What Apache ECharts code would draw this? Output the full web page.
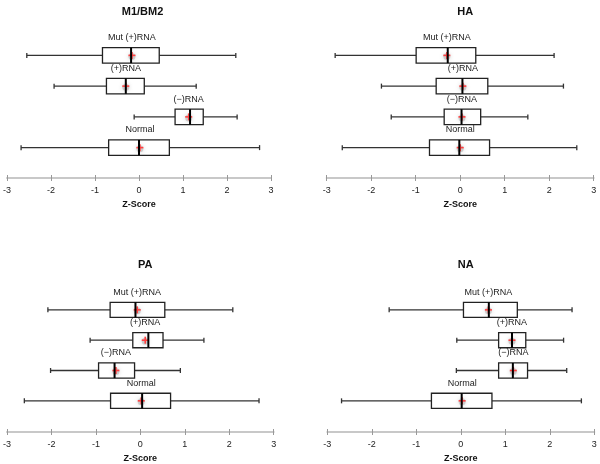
<!DOCTYPE html>
<html><head><meta charset="utf-8">
<script src="https://cdn.jsdelivr.net/npm/echarts@6/dist/echarts.min.js"></script>
<style>html,body{margin:0;padding:0;background:#fff}#c{width:600px;height:464px}</style>
</head><body><div id="c"></div>
<script>
const categories = ['Mut (+)RNA', '(+)RNA', '(\u2212)RNA', 'Normal'];
const panelTitles = ['M1/BM2', 'HA', 'PA', 'NA'];
const axisName = 'Z-Score';
const xMin = -3, xMax = 3, xStep = 1;

// each row: [lower whisker, Q1, median, Q3, upper whisker]
const m1Stats = [
  [-2.55, -0.83, -0.18, 0.46, 2.20],
  [-1.93, -0.74, -0.30, 0.12, 1.30],
  [-0.11, 0.82, 1.16, 1.46, 2.23],
  [-2.68, -0.69, 0.00, 0.69, 2.74]
];
const m1Means = [-0.16, -0.30, 1.13, 0.02];

const haStats = [
  [-2.81, -0.99, -0.28, 0.35, 2.11],
  [-1.77, -0.54, 0.05, 0.62, 2.32],
  [-1.55, -0.36, 0.03, 0.46, 1.52],
  [-2.65, -0.69, -0.02, 0.66, 2.62]
];
const haMeans = [-0.30, 0.06, 0.04, 0.00];

const paStats = [
  [-2.08, -0.68, -0.11, 0.55, 2.08],
  [-1.13, -0.17, 0.18, 0.51, 1.43],
  [-2.02, -0.94, -0.58, -0.13, 0.90],
  [-2.61, -0.67, 0.04, 0.68, 2.67]
];
const paMeans = [-0.07, 0.11, -0.55, 0.02];

const naStats = [
  [-1.61, 0.06, 0.63, 1.27, 2.50],
  [-0.09, 0.85, 1.15, 1.46, 2.31],
  [-0.10, 0.85, 1.17, 1.50, 2.38],
  [-2.68, -0.66, 0.02, 0.70, 2.71]
];
const naMeans = [0.62, 1.15, 1.18, 0.03];

const allStats = [m1Stats, haStats, paStats, naStats];
const allMeans = [m1Means, haMeans, paMeans, naMeans];

const FONT = '"Liberation Sans", Arial, Helvetica, sans-serif';
const layout = [
  { left: 4, top: 40, off: 15, ty: 1 },
  { left: 326.7, top: 40, off: 15, ty: 1 },
  { left: 6.7, top: 294.7, off: 16, ty: 254 },
  { left: 327.3, top: 294.7, off: 16, ty: 254 }
];
const W = 267, H = 123;

function renderBox(params, api) {
  const cat = api.value(0);
  const lo = api.value(1), q1 = api.value(2), med = api.value(3), q3 = api.value(4), hi = api.value(5), mean = api.value(6);
  const pLo = api.coord([lo, cat]), pQ1 = api.coord([q1, cat]), pMed = api.coord([med, cat]);
  const pQ3 = api.coord([q3, cat]), pHi = api.coord([hi, cat]), pMean = api.coord([mean, cat]);
  const band = api.size([0, 1])[1];
  const h = band * 0.5;
  const yc = pLo[1];
  const capH = 2.5;
  const wl = { stroke: '#333', lineWidth: 1.3 };
  return {
    type: 'group',
    children: [
      { type: 'line', shape: { x1: pLo[0], y1: yc, x2: pQ1[0], y2: yc }, style: wl },
      { type: 'line', shape: { x1: pQ3[0], y1: yc, x2: pHi[0], y2: yc }, style: wl },
      { type: 'line', shape: { x1: pLo[0], y1: yc - capH, x2: pLo[0], y2: yc + capH }, style: wl },
      { type: 'line', shape: { x1: pHi[0], y1: yc - capH, x2: pHi[0], y2: yc + capH }, style: wl },
      { type: 'rect', shape: { x: pQ1[0], y: yc - h / 2, width: pQ3[0] - pQ1[0], height: h },
        style: { fill: '#fff', stroke: '#222', lineWidth: 1.3 } },
      { type: 'circle', shape: { cx: pMean[0], cy: yc + 1, r: 3.5 },
        style: { fill: 'rgba(140,140,140,0.35)', shadowBlur: 4, shadowColor: 'rgba(110,110,110,0.7)' } },
      { type: 'line', shape: { x1: pMean[0] - 3.5, y1: yc, x2: pMean[0] + 3.5, y2: yc },
        style: { stroke: '#ff4040', lineWidth: 1.6 } },
      { type: 'line', shape: { x1: pMean[0], y1: yc - 3.5, x2: pMean[0], y2: yc + 3.5 },
        style: { stroke: '#ff4040', lineWidth: 1.6 } },
      { type: 'line', shape: { x1: pMed[0], y1: yc - h / 2, x2: pMed[0], y2: yc + h / 2 },
        style: { stroke: '#000', lineWidth: 2 } },
      { type: 'text', style: { text: categories[cat], x: pMean[0], y: yc - h / 2 - 10,
        align: 'center', verticalAlign: 'middle', fontSize: 9, fontFamily: FONT, fill: '#222' } }
    ]
  };
}

const grid = [], xAxis = [], yAxis = [], series = [], title = [];
layout.forEach((L, i) => {
  grid.push({ left: L.left, top: L.top, width: W, height: H, containLabel: false });
  title.push({ text: panelTitles[i], left: L.left + W / 2, top: L.ty, textAlign: 'center',
    textStyle: { fontSize: 11, fontWeight: 'bold', fontFamily: FONT, color: '#111' } });
  xAxis.push({
    type: 'value', gridIndex: i, min: xMin, max: xMax, interval: xStep, position: 'bottom', offset: L.off,
    name: axisName, nameLocation: 'middle', nameGap: 22,
    nameTextStyle: { fontSize: 9, fontWeight: 'bold', fontFamily: FONT, color: '#111' },
    axisLine: { show: true, lineStyle: { color: '#c8c8c8', width: 2 } },
    axisTick: { show: true, length: 3, lineStyle: { color: '#999', width: 1 } },
    axisLabel: { fontSize: 9, fontFamily: FONT, color: '#222', margin: 8 },
    splitLine: { show: false }
  });
  xAxis.push({
    type: 'value', gridIndex: i, min: xMin, max: xMax, interval: xStep, position: 'bottom', offset: L.off,
    axisLine: { show: false },
    axisTick: { show: true, inside: true, length: 3, lineStyle: { color: '#999', width: 1 } },
    axisLabel: { show: false }, splitLine: { show: false }
  });
  yAxis.push({ type: 'category', gridIndex: i, data: categories, inverse: true, show: false });
  const data = allStats[i].map((s, k) => [k].concat(s).concat([allMeans[i][k]]));
  series.push({
    type: 'custom', xAxisIndex: i * 2, yAxisIndex: i, data: data,
    encode: { x: [1, 2, 3, 4, 5, 6], y: 0 }, renderItem: renderBox, animation: false, silent: true
  });
});

const chart = echarts.init(document.getElementById('c'), null, { renderer: 'canvas' });
chart.setOption({ backgroundColor: '#fff', animation: false, title, grid, xAxis, yAxis, series });
</script>
</body></html>
